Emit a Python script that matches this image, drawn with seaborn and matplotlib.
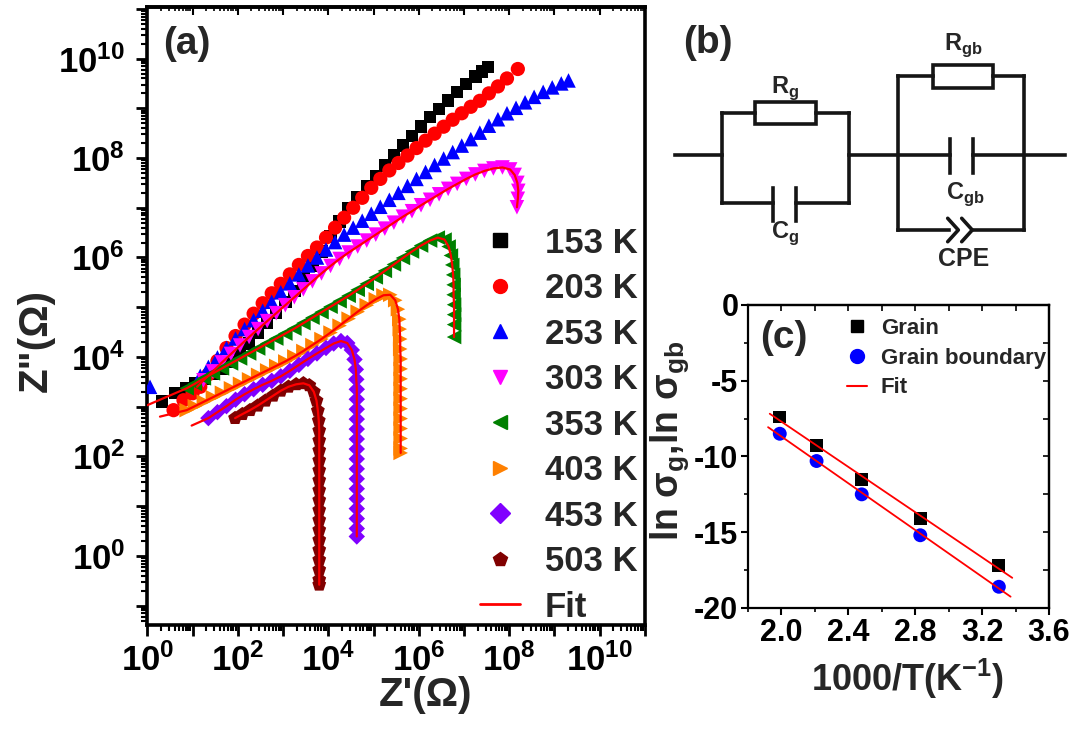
import numpy as np
import seaborn as sns
import matplotlib
matplotlib.use('Agg')
import matplotlib.pyplot as plt
from matplotlib.lines import Line2D
from matplotlib.patches import Rectangle
from matplotlib.ticker import FixedLocator, LogLocator, NullFormatter, MultipleLocator

# ---- panel (a): log10(Z') and log10(Z'') ----
temps = ['153 K', '203 K', '253 K', '303 K', '353 K', '403 K', '453 K', '503 K']

lx_153 = [0.32, 0.61, 0.85, 1.05, 1.25, 1.45, 1.65, 1.85, 2.05, 2.25, 2.45, 2.65, 2.85, 3.05, 3.25,
          3.45, 3.65, 3.85, 4.05, 4.25, 4.45, 4.65, 4.85, 5.05, 5.25, 5.45, 5.65, 5.85, 6.05, 6.25,
          6.45, 6.65, 6.85, 7.05, 7.25, 7.4, 7.53]
ly_153 = [3.10, 3.27, 3.38, 3.47, 3.56, 3.66, 3.77, 3.90, 4.07, 4.27, 4.48, 4.68, 4.88, 5.10, 5.33,
          5.58, 5.84, 6.12, 6.42, 6.72, 7.00, 7.22, 7.43, 7.64, 7.85, 8.05, 8.25, 8.44, 8.63, 8.82,
          8.99, 9.16, 9.33, 9.49, 9.64, 9.74, 9.83]

lx_203 = [0.58, 0.80, 1.00, 1.17, 1.35, 1.55, 1.75, 1.95, 2.15, 2.35, 2.55, 2.75, 2.95, 3.15, 3.35,
          3.55, 3.75, 3.95, 4.15, 4.35, 4.55, 4.75, 4.95, 5.15, 5.35, 5.55, 5.75, 5.95, 6.15, 6.35,
          6.55, 6.75, 6.95, 7.15, 7.35, 7.55, 7.75, 7.95, 8.19]
ly_203 = [2.93, 3.13, 3.27, 3.40, 3.65, 3.92, 4.18, 4.42, 4.65, 4.87, 5.08, 5.28, 5.47, 5.66, 5.85,
          6.03, 6.20, 6.40, 6.60, 6.80, 7.00, 7.20, 7.40, 7.58, 7.75, 7.90, 8.05, 8.20, 8.35, 8.49,
          8.63, 8.77, 8.90, 9.03, 9.15, 9.30, 9.44, 9.60, 9.79]

lx_253 = [0.06, 1.17, 1.35, 1.55, 1.75, 1.95, 2.15, 2.35, 2.55, 2.75, 2.95, 3.15, 3.35, 3.55, 3.75,
          3.95, 4.15, 4.35, 4.55, 4.75, 4.95, 5.15, 5.35, 5.55, 5.75, 5.95, 6.15, 6.35, 6.55, 6.75,
          6.95, 7.15, 7.35, 7.55, 7.75, 7.95, 8.15, 8.35, 8.55, 8.75, 8.95, 9.15, 9.31]
ly_253 = [3.40, 3.62, 3.80, 3.99, 4.18, 4.37, 4.56, 4.74, 4.93, 5.11, 5.30, 5.48, 5.66, 5.84, 6.00,
          6.16, 6.31, 6.46, 6.60, 6.74, 6.88, 7.02, 7.16, 7.30, 7.44, 7.58, 7.72, 7.86, 7.99, 8.12,
          8.25, 8.38, 8.51, 8.65, 8.78, 8.90, 9.01, 9.12, 9.23, 9.33, 9.42, 9.50, 9.56]

lx_303 = [1.24, 1.45, 1.65, 1.85, 2.05, 2.25, 2.45, 2.65, 2.85, 3.05, 3.25, 3.45, 3.65, 3.85, 4.05,
          4.25, 4.45, 4.65, 4.85, 5.05, 5.25, 5.45, 5.65, 5.85, 6.05, 6.25, 6.45, 6.65, 6.85, 7.05,
          7.25, 7.45, 7.65, 7.85, 8.02, 8.12, 8.18, 8.20, 8.19, 8.17]
ly_303 = [3.53, 3.71, 3.89, 4.06, 4.23, 4.40, 4.56, 4.72, 4.88, 5.04, 5.20, 5.36, 5.52, 5.68, 5.83,
          5.97, 6.10, 6.22, 6.34, 6.46, 6.58, 6.70, 6.82, 6.93, 7.05, 7.16, 7.27, 7.38, 7.48, 7.58,
          7.67, 7.74, 7.79, 7.81, 7.77, 7.66, 7.50, 7.34, 7.18, 7.01]

lx_353 = [0.87, 1.05, 1.25, 1.45, 1.65, 1.85, 2.05, 2.25, 2.45, 2.65, 2.85, 3.05, 3.25, 3.45, 3.65,
          3.85, 4.05, 4.25, 4.45, 4.65, 4.85, 5.05, 5.25, 5.45, 5.65, 5.85, 6.05, 6.25, 6.42, 6.57,
          6.66, 6.71, 6.74, 6.76, 6.77, 6.77, 6.78, 6.78, 6.78, 6.78]
ly_353 = [3.37, 3.46, 3.57, 3.67, 3.77, 3.87, 3.97, 4.07, 4.17, 4.27, 4.37, 4.47, 4.57, 4.68, 4.79,
          4.90, 5.01, 5.12, 5.23, 5.35, 5.47, 5.60, 5.73, 5.86, 5.99, 6.12, 6.24, 6.34, 6.40, 6.36,
          6.22, 6.04, 5.85, 5.65, 5.45, 5.25, 5.05, 4.85, 4.65, 4.40]

lx_403 = [0.87, 1.05, 1.25, 1.45, 1.65, 1.85, 2.05, 2.25, 2.45, 2.65, 2.85, 3.05, 3.25, 3.45, 3.65,
          3.85, 4.05, 4.25, 4.45, 4.65, 4.85, 5.05, 5.22, 5.37, 5.48, 5.54, 5.57, 5.58, 5.59, 5.59,
          5.60, 5.60, 5.60, 5.60, 5.60, 5.60, 5.60, 5.60, 5.60, 5.60, 5.60]
ly_403 = [2.93, 3.01, 3.10, 3.19, 3.28, 3.37, 3.46, 3.55, 3.64, 3.73, 3.82, 3.91, 4.01, 4.12, 4.24,
          4.36, 4.49, 4.63, 4.77, 4.91, 5.04, 5.16, 5.24, 5.25, 5.14, 4.96, 4.76, 4.56, 4.36, 4.16,
          3.96, 3.76, 3.56, 3.36, 3.16, 2.96, 2.76, 2.56, 2.36, 2.16, 2.07]

lx_453 = [1.35, 1.55, 1.75, 1.95, 2.15, 2.35, 2.55, 2.75, 2.95, 3.15, 3.35, 3.55, 3.75, 3.95, 4.12,
          4.28, 4.42, 4.52, 4.58, 4.61, 4.62, 4.63, 4.63, 4.63, 4.63, 4.63, 4.63, 4.63, 4.63, 4.63,
          4.63, 4.63, 4.63, 4.63, 4.63, 4.63, 4.63]
ly_453 = [2.77, 2.89, 3.01, 3.14, 3.25, 3.35, 3.44, 3.52, 3.61, 3.72, 3.84, 3.96, 4.07, 4.18, 4.27,
          4.32, 4.28, 4.14, 3.95, 3.75, 3.55, 3.35, 3.15, 2.95, 2.75, 2.55, 2.35, 2.15, 1.95, 1.75,
          1.55, 1.35, 1.15, 0.95, 0.75, 0.55, 0.39]

lx_503 = [1.94, 2.10, 2.27, 2.44, 2.61, 2.78, 2.95, 3.12, 3.29, 3.45, 3.58, 3.68, 3.74, 3.77, 3.79,
          3.80, 3.80, 3.80, 3.80, 3.80, 3.80, 3.80, 3.80, 3.80, 3.80, 3.80, 3.80, 3.80, 3.80, 3.80,
          3.80, 3.80]
ly_503 = [2.77, 2.85, 2.93, 3.02, 3.12, 3.22, 3.32, 3.40, 3.45, 3.47, 3.43, 3.30, 3.12, 2.92, 2.72,
          2.52, 2.32, 2.12, 1.92, 1.72, 1.52, 1.32, 1.12, 0.92, 0.72, 0.52, 0.32, 0.12, -0.08, -0.28,
          -0.48, -0.58]

# where the fitted curves start at the high-frequency end (log10 Z', log10 Z'')
fit_start_x = [1.10, 0.00, 0.28, 0.98, 1.94]
fit_start_y = [3.40, 3.03, 2.80, 2.62, 2.77]

series_x = [lx_153, lx_203, lx_253, lx_303, lx_353, lx_403, lx_453, lx_503]
series_y = [ly_153, ly_203, ly_253, ly_303, ly_353, ly_403, ly_453, ly_503]
colors = ['#000000', '#ff0000', '#0000ff', '#ff00ff', '#008000', '#ff8000', '#8000ff', '#800000']
markers = ['s', 'o', '^', 'v', '<', '>', 'D', 'p']
msizes = [80, 105, 110, 110, 110, 110, 70, 110]

# ---- panel (c): Arrhenius data ----
inv_T = [1.99, 2.21, 2.48, 2.83, 3.30]
ln_sigma_g = [-7.4, -9.3, -11.5, -14.1, -17.2]
ln_sigma_gb = [-8.5, -10.3, -12.5, -15.2, -18.6]
fit_range_g = [1.93, 3.38]
fit_range_gb = [1.92, 3.37]

sns.set_theme(style='ticks')
plt.rcParams['font.family'] = ['Liberation Sans', 'DejaVu Sans']
plt.rcParams['font.weight'] = 'bold'
plt.rcParams['axes.labelweight'] = 'bold'
plt.rcParams['axes.unicode_minus'] = False
plt.rcParams['axes.edgecolor'] = 'black'
plt.rcParams['xtick.color'] = 'black'
plt.rcParams['ytick.color'] = 'black'

fig = plt.figure(figsize=(10.88, 7.40), dpi=100)

# ================= panel (a) =================
ax = fig.add_axes([0.1354, 0.1554, 0.4574, 0.8347])
ax.set_xscale('log')
ax.set_yscale('log')
for lx, ly, c, m, s in zip(series_x, series_y, colors, markers, msizes):
    sns.scatterplot(x=10.0 ** np.array(lx), y=10.0 ** np.array(ly), ax=ax, color=c, marker=m,
                    s=s, edgecolor='none', linewidth=0, zorder=3, legend=False)
for lx, ly, fx, fy in zip(series_x[3:], series_y[3:], fit_start_x, fit_start_y):
    ax.plot(10.0 ** np.array([fx] + lx), 10.0 ** np.array([fy] + ly), color='red', lw=1.6, zorder=4)

ax.set_xlim(1, 10 ** 11)
ax.set_ylim(10 ** -1.39, 10 ** 11.03)
dec_x = np.arange(0, 12)
dec_y = np.arange(-1, 12)
ax.xaxis.set_major_locator(FixedLocator(10.0 ** dec_x))
ax.set_xticklabels([r'$\mathdefault{10^{%d}}$' % k if k % 2 == 0 else '' for k in dec_x])
ax.yaxis.set_major_locator(FixedLocator(10.0 ** dec_y))
ax.set_yticklabels([r'$\mathdefault{10^{%d}}$' % k if k % 2 == 0 else '' for k in dec_y])
for axis in (ax.xaxis, ax.yaxis):
    axis.set_minor_locator(LogLocator(base=10, subs=np.arange(2, 10), numticks=100))
    axis.set_minor_formatter(NullFormatter())
ax.tick_params(axis='x', which='major', direction='out', length=8, width=2, labelsize=25, pad=5)
ax.tick_params(axis='y', which='major', direction='out', length=8, width=2, labelsize=25, pad=8)
ax.tick_params(which='minor', direction='out', length=4, width=1.5)
for sp in ax.spines.values():
    sp.set_linewidth(2.6)
    sp.set_visible(True)
top_a = ax.secondary_xaxis('top')
top_a.xaxis.set_major_locator(FixedLocator(10.0 ** dec_x))
top_a.xaxis.set_major_formatter(NullFormatter())
top_a.xaxis.set_minor_locator(LogLocator(base=10, subs=np.arange(2, 10), numticks=100))
top_a.tick_params(which='major', direction='in', length=6, width=1.5)
top_a.tick_params(which='minor', direction='in', length=3, width=1.2)
top_a.spines['top'].set_linewidth(2.6)

ax.set_xlabel("Z'(Ω)", fontsize=29)
ax.set_ylabel('Z"(Ω)', fontsize=29)
ax.xaxis.set_label_coords(0.56, -0.083)
ax.yaxis.set_label_coords(-0.185, 0.46)
ax.text(0.032, 0.94, '(a)', transform=ax.transAxes, fontsize=28, ha='left', va='center')

handles = [Line2D([], [], ls='none', marker=m, color=c, markersize=10) for c, m in zip(colors, markers)]
handles.append(Line2D([], [], color='red', lw=2))
ax.legend(handles, temps + ['Fit'], loc='upper left', bbox_to_anchor=(0.668, 0.645), frameon=False,
          prop={'size': 25, 'weight': 'bold'}, labelspacing=0.36, handlelength=1.15,
          handletextpad=0.72, borderpad=0, borderaxespad=0)

# ================= panel (b): equivalent circuit =================
axb = fig.add_axes([650 / 1088, 450 / 740, 438 / 1088, 290 / 740])
axb.set_xlim(650, 1088)
axb.set_ylim(290, 0)
axb.axis('off')
wc = '#151515'
lw = 2.6


def wire(xs, ys):
    axb.plot(xs, ys, color=wc, lw=lw, solid_capstyle='projecting')


wire([675, 721.7], [155, 155])
wire([721.7, 721.7], [113.3, 203.3])
wire([849.3, 849.3], [113.3, 203.3])
wire([721.7, 755], [113.3, 113.3])
wire([815.7, 849.3], [113.3, 113.3])
axb.add_patch(Rectangle((755, 101.7), 60.7, 22.3, fill=False, ec=wc, lw=lw))
wire([721.7, 772.7], [203.3, 203.3])
wire([795.7, 849.3], [203.3, 203.3])
wire([772.7, 772.7], [187.7, 220.7])
wire([795.7, 795.7], [187.7, 220.7])
wire([849.3, 950], [155, 155])
wire([972.7, 1065], [155, 155])
wire([950, 950], [139.3, 172.7])
wire([972.7, 972.7], [139.3, 172.7])
wire([898.3, 898.3], [76, 230])
wire([1024, 1024], [76, 230])
wire([898.3, 932.7], [76, 76])
wire([993.3, 1024], [76, 76])
axb.add_patch(Rectangle((932.7, 65), 60.6, 23.3, fill=False, ec=wc, lw=lw))
wire([898.3, 949], [230, 230])
wire([972, 1024], [230, 230])
axb.plot([947.7, 958.3, 947.7], [218.3, 230, 241.7], color=wc, lw=lw)
axb.plot([961.7, 972.3, 961.7], [218.3, 230, 241.7], color=wc, lw=lw)

axb.text(708, 43, '(b)', fontsize=28, ha='center', va='center')
axb.text(785, 88, r'R$_\mathregular{g}$', fontsize=17, ha='center', va='center')
axb.text(785, 233, r'C$_\mathregular{g}$', fontsize=17, ha='center', va='center')
axb.text(963, 45, r'R$_\mathregular{gb}$', fontsize=17, ha='center', va='center')
axb.text(965, 194, r'C$_\mathregular{gb}$', fontsize=17, ha='center', va='center')
axb.text(963.5, 259, 'CPE', fontsize=18, ha='center', va='center')

# ================= panel (c) =================
axc = fig.add_axes([0.6875, 0.1784, 0.2767, 0.4095])
sns.scatterplot(x=inv_T, y=ln_sigma_g, ax=axc, marker='s', color='black', s=85,
                edgecolor='none', zorder=3, legend=False)
sns.scatterplot(x=inv_T, y=ln_sigma_gb, ax=axc, marker='o', color='blue', s=100,
                edgecolor='none', zorder=3, legend=False)
for yv, xr in ((ln_sigma_g, fit_range_g), (ln_sigma_gb, fit_range_gb)):
    k, b = np.polyfit(inv_T, yv, 1)
    xr = np.array(xr)
    axc.plot(xr, k * xr + b, color='red', lw=1.3, zorder=4)

axc.set_xlim(1.8, 3.6)
axc.set_ylim(-20, 0)
axc.xaxis.set_major_locator(MultipleLocator(0.4))
axc.xaxis.set_minor_locator(MultipleLocator(0.2))
axc.yaxis.set_major_locator(MultipleLocator(5))
axc.yaxis.set_minor_locator(MultipleLocator(2.5))
axc.tick_params(which='major', direction='out', length=5, width=1.5, labelsize=22, pad=2)
axc.tick_params(which='minor', direction='out', length=3, width=1.2)
for sp in axc.spines.values():
    sp.set_linewidth(1.6)
    sp.set_visible(True)
right_c = axc.secondary_yaxis('right')
right_c.yaxis.set_major_locator(MultipleLocator(2.5))
right_c.yaxis.set_major_formatter(NullFormatter())
right_c.tick_params(direction='in', length=4, width=1.2)
right_c.spines['right'].set_linewidth(1.6)
top_c = axc.secondary_xaxis('top')
top_c.xaxis.set_major_locator(MultipleLocator(0.2))
top_c.xaxis.set_major_formatter(NullFormatter())
top_c.tick_params(direction='in', length=4, width=1.2)
top_c.spines['top'].set_linewidth(1.6)

axc.set_xlabel(r'1000/T(K$^\mathregular{-1}$)', fontsize=26)
axc.set_ylabel(r'ln σ$_\mathregular{g}$,ln σ$_\mathregular{gb}$', fontsize=27)
axc.xaxis.set_label_coords(0.53, -0.16)
axc.yaxis.set_label_coords(-0.19, 0.55)
axc.text(0.039, 0.89, '(c)', transform=axc.transAxes, fontsize=28, ha='left', va='center')

hc = [Line2D([], [], ls='none', marker='s', color='black', markersize=9),
      Line2D([], [], ls='none', marker='o', color='blue', markersize=10),
      Line2D([], [], color='red', lw=1.5)]
axc.legend(hc, ['Grain', 'Grain boundary', 'Fit'], loc='upper left', bbox_to_anchor=(0.33, 0.958),
           frameon=False, prop={'size': 16, 'weight': 'bold'}, labelspacing=0.4,
           handlelength=0.9, handletextpad=0.6, borderpad=0, borderaxespad=0)

fig.savefig('out.png', dpi=100)
plt.close(fig)
